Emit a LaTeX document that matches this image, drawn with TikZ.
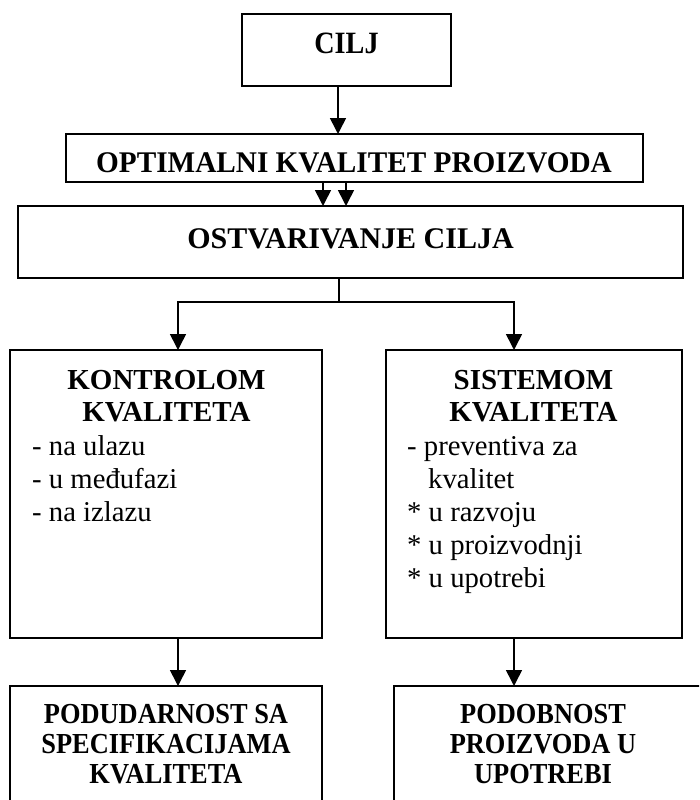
\documentclass[tikz,border=0pt]{standalone}
\usepackage{fontspec}
\setmainfont{Liberation Serif}
\newfontfamily\fnarrow{Liberation Serif}[FakeStretch=0.91]
\newfontfamily\fopt{Liberation Serif}[FakeStretch=0.975]
\usetikzlibrary{arrows.meta}
\begin{document}
\begin{tikzpicture}[x=1pt,y=-1pt,
  box/.style={draw, line width=1.6pt, rectangle, inner sep=0pt, outer sep=0pt},
  conn/.style={line width=1.6pt},
  arr/.style={line width=1.6pt, -{Triangle[length=16pt,width=16pt]}},
  head/.style={anchor=base, inner sep=0pt, font=\bfseries\fontsize{29}{33}\selectfont},
  bhead/.style={anchor=base, inner sep=0pt, font=\fnarrow\bfseries\fontsize{29}{30}\selectfont},
  item/.style={anchor=base west, inner sep=0pt, font=\fontsize{28.7}{33}\selectfont}]
\clip (0,0) rectangle (699,800);
% boxes
\node[box, minimum width=209, minimum height=72] (cilj) at (346.5,50) {};
\node[box, minimum width=577, minimum height=48] (opt) at (354.5,158) {};
\node[box, minimum width=665, minimum height=72] (ost) at (350.5,242) {};
\node[box, minimum width=312, minimum height=288] (kon) at (166,494) {};
\node[box, minimum width=296, minimum height=288] (sis) at (534,494) {};
\node[box, minimum width=312, minimum height=134] (pod) at (166,753) {};
\node[box, minimum width=326, minimum height=134] (pob) at (557,753) {};
% texts
\node[head, font=\fnarrow\bfseries\fontsize{31}{33}\selectfont] (tcilj) at (346.5,53.5) {CILJ};
\node[head, font=\fopt\bfseries\fontsize{30}{33}\selectfont] (topt) at (354,172.5) {OPTIMALNI KVALITET PROIZVODA};
\node[head, font=\bfseries\fontsize{30}{33}\selectfont] (tost) at (350.5,248.5) {OSTVARIVANJE CILJA};
\node[head] (tkon1) at (166.5,389) {KONTROLOM};
\node[head] (tkon2) at (166.5,421) {KVALITETA};
\node[item] (k1) at (32,455) {- na ulazu};
\node[item] (k2) at (32,488) {- u međufazi};
\node[item] (k3) at (32,521) {- na izlazu};
\node[head] (tsis1) at (533.5,389) {SISTEMOM};
\node[head] (tsis2) at (533.5,421) {KVALITETA};
\node[item] (s1) at (407,455) {- preventiva za};
\node[item] (s2) at (428,488) {kvalitet};
\node[item] (s3) at (407,521) {* u razvoju};
\node[item] (s4) at (407,554) {* u proizvodnji};
\node[item] (s5) at (407,587) {* u upotrebi};
\node[bhead] (tpod1) at (166,723) {PODUDARNOST SA};
\node[bhead] (tpod2) at (166,753) {SPECIFIKACIJAMA};
\node[bhead] (tpod3) at (166,783) {KVALITETA};
\node[bhead] (tpob1) at (543,723) {PODOBNOST};
\node[bhead] (tpob2) at (543,753) {PROIZVODA U};
\node[bhead] (tpob3) at (543,783) {UPOTREBI};
% connector columns
\coordinate (xc) at (338,0);
\coordinate (xa) at (323,0);
\coordinate (xb) at (346,0);
\coordinate (j) at (339,302);
\coordinate (xl) at (178,0);
\coordinate (xr) at (514,0);
% connectors
\draw[arr] (xc |- cilj.south) -- (xc |- opt.north);
\draw[arr] (xa |- opt.south) -- (xa |- ost.north);
\draw[arr] (xb |- opt.south) -- (xb |- ost.north);
\draw[conn] (j |- ost.south) -- (j);
\draw[arr] (j) -| (xl |- kon.north);
\draw[arr] (j) -| (xr |- sis.north);
\draw[arr] (xl |- kon.south) -- (xl |- pod.north);
\draw[arr] (xr |- sis.south) -- (xr |- pob.north);
\end{tikzpicture}
\end{document}
